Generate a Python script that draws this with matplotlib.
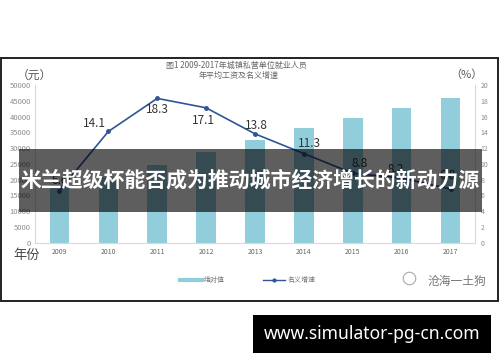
import matplotlib
matplotlib.use("Agg")
import matplotlib.pyplot as plt
from matplotlib.patches import Rectangle
from matplotlib.lines import Line2D
import numpy as np

plt.rcParams['font.family'] = ['Noto Sans CJK SC', 'DejaVu Sans']

years = ['2009', '2010', '2011', '2012', '2013', '2014', '2015', '2016', '2017']
wage = [18199, 20759, 24556, 28752, 32706, 36390, 39589, 42833, 45761]
growth = [6.6, 14.1, 18.3, 17.1, 13.8, 11.3, 8.8, 8.2, 6.8]
growth_labels = ['6.6', '14.1', '18.3', '17.1', '13.8', '11.3', '8.8', '8.2', '6.8']
# label offsets in points (style only)
label_offsets = [(0, 7), (-10, 6), (0, -8), (-2, -9), (1, 6), (4, 7), (5, 7), (-4, 6), (-2, 10)]

bar_color = '#92cddc'
line_color = '#2f5597'
grey = '#8c8c8c'

fig = plt.figure(figsize=(5, 3.62), dpi=100)
fig.patch.set_facecolor('white')

ax = fig.add_axes([0.07, 0.3296, 0.88, 0.4357])
x = np.arange(len(years))
ax.bar(x, wage, width=0.4, color=bar_color, zorder=2)
ax.set_xlim(-0.5, len(years) - 0.5)
ax.set_ylim(0, 50000)
ax.set_yticks(np.arange(0, 50001, 5000))
ax.set_xticks(x)
ax.set_xticklabels(years)
ax.tick_params(axis='y', length=0, labelsize=5.5, labelcolor=grey, pad=3)
ax.tick_params(axis='x', length=0, labelsize=5, labelcolor='#666666', pad=4)
for s in ['top', 'right']:
    ax.spines[s].set_visible(False)
ax.spines['left'].set_color('#d9d9d9')
ax.spines['bottom'].set_color('#d9d9d9')
ax.spines['left'].set_linewidth(0.8)
ax.spines['bottom'].set_linewidth(0.8)

ax2 = ax.twinx()
ax2.plot(x, growth, color=line_color, linewidth=1.2, marker='o', markersize=2.5, zorder=3)
ax2.set_ylim(0, 20)
ax2.set_yticks(np.arange(0, 21, 2))
ax2.tick_params(axis='y', length=0, labelsize=5, labelcolor=grey, pad=4)
for s in ['top', 'left', 'bottom']:
    ax2.spines[s].set_visible(False)
ax2.spines['right'].set_color('#d9d9d9')
ax2.spines['right'].set_linewidth(0.8)
for xi, yi, lab, off in zip(x, growth, growth_labels, label_offsets):
    ax2.annotate(lab, (xi, yi), xytext=off, textcoords='offset points',
                 ha='center', va='center', fontsize=8.5, color='#333333')

# axis captions and title
fig.text(0.068, 0.793, '（元）', fontsize=8.5, color='#555555', ha='center', va='center')
fig.text(0.932, 0.793, '（%）', fontsize=8, color='#555555', ha='center', va='center')
fig.text(0.054, 0.293, '年份', fontsize=9.5, color='#444444', ha='center', va='center')
fig.text(0.472, 0.820, '图1 2009-2017年城镇私营单位就业人员', fontsize=5.8, color='#666666',
         ha='center', va='center')
fig.text(0.477, 0.792, '年平均工资及名义增速', fontsize=5.8, color='#666666',
         ha='center', va='center')

# legend
handles = [Line2D([], [], color=bar_color, linewidth=3),
           Line2D([], [], color=line_color, linewidth=1, marker='o', markersize=2)]
fig.legend(handles, ['绝对值', '名义增速'], loc='center', bbox_to_anchor=(0.495, 0.2265),
           ncol=2, frameon=False, fontsize=5, labelcolor='#777777',
           handlelength=3.2, handletextpad=0.3, columnspacing=5.5)

# watermark
fig.add_artist(Line2D([0.818], [0.232], marker='o', markersize=9, markerfacecolor='none',
                      markeredgecolor='#aaaaaa', markeredgewidth=0.8, linestyle='none',
                      transform=fig.transFigure))
fig.text(0.913, 0.224, '沧海一土狗', fontsize=8.5, color='#777777', ha='center', va='center')

# chart frame
fig.add_artist(Rectangle((0.002, 0.1685), 0.994, 0.671, transform=fig.transFigure,
                         fill=False, edgecolor='#222222', linewidth=1.4, zorder=5))

# overlay banner
fig.add_artist(Rectangle((0.038, 0.4144), 0.926, 0.174, transform=fig.transFigure,
                         facecolor='black', alpha=0.63, edgecolor='none', zorder=10))
fig.text(0.041, 0.503, '米兰超级杯能否成为推动城市经济增长的新动力源', fontsize=15,
         fontweight='bold', color='white', ha='left', va='center', zorder=11)

# url box
fig.add_artist(Rectangle((0.506, 0.0249), 0.476, 0.105, transform=fig.transFigure,
                         facecolor='black', edgecolor='none', zorder=10))
fig.text(0.744, 0.0773, 'www.simulator-pg-cn.com', fontsize=12.6, fontweight='bold',
         color='white', ha='center', va='center', zorder=11,
         family=['Noto Sans', 'DejaVu Sans'])

fig.savefig('out.png', dpi=100)
